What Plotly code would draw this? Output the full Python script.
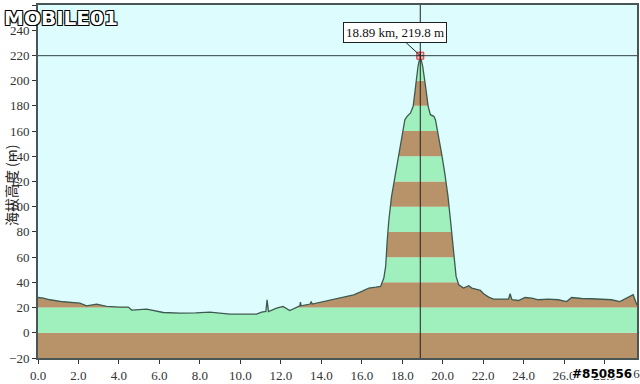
import plotly.graph_objects as go

# distance (km) and elevation (m)
dist_km = [0, 0.26, 0.59, 1.25, 2.07, 2.40, 2.90, 3.39, 4.05, 4.46, 4.63, 5.37, 6.19, 7.01, 7.8,
           8.49, 9.48, 10.8, 11.05, 11.26, 11.32, 11.39, 11.79, 12.11, 12.44, 12.94, 12.97, 13.0,
           13.45, 13.5, 13.55, 13.93, 14.42, 14.8, 15.2, 15.6, 16.0, 16.35, 16.69, 16.93, 17.09,
           17.18, 17.26, 17.34, 17.47, 17.67, 17.83, 18.0, 18.13, 18.24, 18.41, 18.54, 18.66,
           18.78, 18.89, 19.01, 19.15, 19.28, 19.39, 19.56, 19.64, 19.80, 19.94, 20.10, 20.26,
           20.38, 20.49, 20.59, 20.66, 20.79, 21.03, 21.28, 21.44, 21.86, 22.02, 22.27, 22.51,
           23.25, 23.33, 23.42, 23.74, 24.07, 24.40, 24.73, 25.22, 25.71, 26.12, 26.37, 26.86,
           27.36, 27.85, 28.34, 28.75, 29.0, 29.41, 29.55, 29.6]
elev_m = [28.0, 27.5, 26.2, 24.6, 23.5, 21.4, 22.7, 20.9, 20.4, 20.4, 18.0, 18.8, 16.1, 15.6, 15.8,
          16.4, 14.8, 14.8, 16.4, 16.9, 26.2, 16.9, 19.6, 20.9, 17.7, 21.4, 24.4, 21.4,
          22.8, 24.8, 22.8, 24.1, 25.6, 27.0, 28.8, 30.0, 32.8, 35.5, 36.2, 36.8, 43.4,
          52.6, 73.8, 89.7, 108.0, 126.7, 142.6, 155.8, 169.0, 171.7, 174.4, 179.6, 195.5,
          211.4, 219.8, 211.4, 195.5, 179.6, 173.0, 171.7, 169.0, 155.8, 142.6, 126.7, 108.2,
          89.7, 73.8, 57.9, 44.7, 38.1, 35.5, 37.3, 35.5, 33.6, 31.0, 28.3, 26.7,
          26.7, 31.0, 26.2, 25.6, 28.0, 27.5, 26.2, 26.7, 26.2, 24.8, 28.0, 27.2,
          27.0, 26.7, 26.2, 24.8, 26.7, 30.2, 24.0, 22.0]

peak_km = 18.89
peak_m = 219.8
x_ticks = [0, 2, 4, 6, 8, 10, 12, 14, 16, 18, 20, 22, 24, 26, 28]
y_ticks = [-20, 0, 20, 40, 60, 80, 100, 120, 140, 160, 180, 200, 220, 240, 260]
band_edges = list(range(-20, 240, 20))

X_MAX = 29.6
Y_MIN, Y_MAX = -20, 260
BG = "#DDFCFD"
BROWN = "#B8936A"
GREEN = "#A0F0BE"
SERIF = "Liberation Serif, DejaVu Serif, Times New Roman, serif"

fig = go.Figure()

# sky fill above profile (covers the stripes)
fig.add_trace(go.Scatter(x=dist_km, y=elev_m, mode="lines", line=dict(width=0),
                         hoverinfo="skip", showlegend=False))
fig.add_trace(go.Scatter(x=dist_km, y=[Y_MAX] * len(dist_km), mode="lines", line=dict(width=0),
                         fill="tonexty", fillcolor=BG, hoverinfo="skip", showlegend=False))
# profile outline
fig.add_trace(go.Scatter(x=dist_km, y=elev_m, mode="lines",
                         line=dict(color="#3E5A50", width=1.3), showlegend=False))

shapes = []
for i, lo in enumerate(band_edges[:-1]):
    shapes.append(dict(type="rect", xref="x", yref="y", x0=0, x1=X_MAX, y0=lo,
                       y1=band_edges[i + 1], fillcolor=BROWN if i % 2 == 0 else GREEN,
                       line=dict(width=0), layer="below"))
# crosshair
shapes.append(dict(type="line", xref="x", yref="y", x0=peak_km, x1=peak_km, y0=Y_MIN, y1=Y_MAX,
                   line=dict(color="#202020", width=1), layer="above"))
shapes.append(dict(type="line", xref="x", yref="y", x0=0, x1=X_MAX, y0=peak_m, y1=peak_m,
                   line=dict(color="#304040", width=1), layer="above"))

# peak marker
fig.add_trace(go.Scatter(x=[peak_km], y=[peak_m], mode="markers",
                         marker=dict(symbol="square", size=7, color="#F6B8B8",
                                     line=dict(color="#E03030", width=1)), showlegend=False))
fig.add_trace(go.Scatter(x=[peak_km], y=[peak_m], mode="markers",
                         marker=dict(symbol="cross-thin", size=5,
                                     line=dict(color="#202020", width=1)), showlegend=False))

tickfont = dict(family=SERIF, size=13, color="#333333")
outline_blk = "1px 1px 0 #000, -1px -1px 0 #000, 1px -1px 0 #000, -1px 1px 0 #000"
outline_wht = "1px 1px 0 #fff, -1px -1px 0 #fff, 1px -1px 0 #fff, -1px 1px 0 #fff"
annotations = [
    dict(x=peak_km, y=peak_m, xref="x", yref="y", text=f"{peak_km} km, {peak_m} m",
         showarrow=True, arrowhead=0, arrowwidth=1, arrowcolor="#202020", ax=-25, ay=-23,
         bgcolor="white", bordercolor="#202020", borderwidth=1, borderpad=2,
         font=dict(family=SERIF, size=13, color="#111111")),
    dict(x=X_MAX, y=-0.016, xref="x", yref="paper", text="29.6", showarrow=False,
         xanchor="right", yanchor="top", xshift=5, font=tickfont),
    dict(x=-0.045, y=0.49, xref="paper", yref="paper", text="海拔高度 (m)", textangle=-90,
         showarrow=False, xanchor="center", yanchor="middle",
         font=dict(family="Noto Sans CJK TC", size=14, color="#222222")),
    dict(x=0.48, y=-0.06, xref="paper", yref="paper", text="距離 (km)", showarrow=False,
         xanchor="center", yanchor="top",
         font=dict(family="Noto Sans CJK TC", size=13, color="#222222")),
    dict(x=-0.06, y=1.0, xref="paper", yref="paper", text="<b>MOBILE01</b>",
         showarrow=False, xanchor="left", yanchor="top", yshift=1,
         font=dict(family="DejaVu Sans", size=20, color="#FFFFFF", shadow=outline_blk)),
    dict(x=0.995, y=-0.071, xref="paper", yref="paper", text="<b>#850856</b>",
         showarrow=False, xanchor="right", yanchor="bottom",
         font=dict(family="DejaVu Sans", size=12, color="#000000", shadow=outline_wht)),
]

fig.update_layout(
    width=640, height=384,
    margin=dict(l=38, r=1, t=5, b=26),
    paper_bgcolor="white", plot_bgcolor=BG,
    shapes=shapes, annotations=annotations, showlegend=False,
    xaxis=dict(range=[0, X_MAX], tickvals=x_ticks, ticktext=[f"{v:.1f}" for v in x_ticks],
               ticks="outside", ticklen=4, tickcolor="#333", showgrid=False, zeroline=False,
               showline=True, linecolor="#4A5656", linewidth=2, mirror=True, tickfont=tickfont),
    yaxis=dict(range=[Y_MIN, Y_MAX], tickvals=y_ticks, ticks="outside", ticklen=4,
               tickcolor="#333", showgrid=False, zeroline=False, showline=True,
               linecolor="#4A5656", linewidth=2, mirror=True, tickfont=tickfont),
)

fig.write_html("out.html")
